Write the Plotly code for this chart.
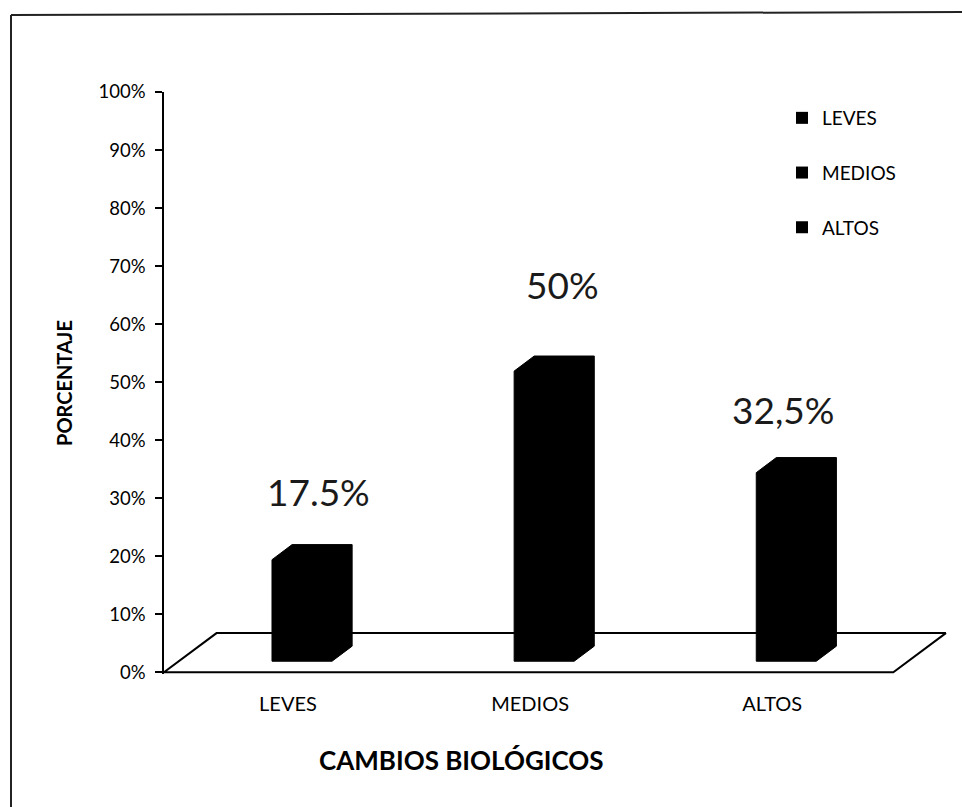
import plotly.graph_objects as go

# Chart data
categories = ["LEVES", "MEDIOS", "ALTOS"]
values = [17.5, 50, 32.5]
value_labels = ["17.5%", "50%", "32,5%"]
y_ticks = list(range(0, 101, 10))

# Layout geometry (in axis units)
FONT = "Lato"
bar_shift = 0.058      # bar front centre offset from the category tick
bar_half = 0.124       # half width of the bar front face
depth_dx = 0.083       # horizontal depth offset of the 3D faces
depth_dy = 2.6         # vertical depth offset of the 3D faces
bar_base = 1.9         # bottom of the front face, above the floor front edge
floor_left, floor_right = -0.512, 2.500
floor_dx, floor_dy = 0.217, 6.75
label_pos = [(0.128, 31.1), (1.132, 66.8), (2.045, 45.2)]

fig = go.Figure()

# Floor of the 3D chart
fig.add_trace(go.Scatter(
    x=[floor_left, floor_right, floor_right + floor_dx, floor_left + floor_dx, floor_left],
    y=[0, 0, floor_dy, floor_dy, 0],
    mode="lines", fill="toself", fillcolor="white",
    line=dict(color="black", width=2),
    hoverinfo="skip", showlegend=False,
))

# 3D bars: front face + top + side, drawn as one solid outline
for i, v in enumerate(values):
    xl = i + bar_shift - bar_half
    xr = i + bar_shift + bar_half
    y0 = bar_base
    y1 = bar_base + v
    fig.add_trace(go.Scatter(
        x=[xl, xr, xr + depth_dx, xr + depth_dx, xl + depth_dx, xl, xl],
        y=[y0, y0, y0 + depth_dy, y1 + depth_dy, y1 + depth_dy, y1, y0],
        mode="lines", fill="toself", fillcolor="black",
        line=dict(color="black", width=1),
        hoverinfo="skip", showlegend=False, name=categories[i],
    ))

# Legend entries
for i, c in enumerate(categories):
    fig.add_trace(go.Scatter(
        x=[None], y=[None], mode="markers", name=c, legendgroup=c,
        marker=dict(symbol="square", size=12, color="black"),
    ))

annotations = []
for (lx, ly), txt in zip(label_pos, value_labels):
    annotations.append(dict(
        x=lx, y=ly, xref="x", yref="y", text=txt, showarrow=False,
        font=dict(family=FONT, size=37, color="#1a1a1a"),
        xanchor="center", yanchor="middle",
    ))

W, H = 962, 807
ML, MR, MT, MB = 164, 13, 92, 133
PW, PH = W - ML - MR, H - MT - MB


def px(xp):
    return (xp - ML) / PW


def py(yp):
    return (H - MB - yp) / PH


annotations.append(dict(
    x=px(64), y=py(383), xref="paper", yref="paper", text="<b>PORCENTAJE</b>",
    textangle=-90, showarrow=False, xanchor="center", yanchor="middle",
    font=dict(family=FONT, size=20, color="black"),
))
annotations.append(dict(
    x=px(461), y=py(760), xref="paper", yref="paper", text="<b>CAMBIOS BIOLÓGICOS</b>",
    showarrow=False, xanchor="center", yanchor="middle",
    font=dict(family=FONT, size=26, color="black"),
))

# Outer frame
shapes = [
    dict(type="line", xref="paper", yref="paper", x0=px(11), y0=py(15), x1=px(962), y1=py(12),
         line=dict(color="#222", width=2)),
    dict(type="line", xref="paper", yref="paper", x0=px(11), y0=py(15), x1=px(11), y1=py(807),
         line=dict(color="#222", width=2)),
]

fig.update_layout(
    width=W, height=H,
    margin=dict(l=ML, r=MR, t=MT, b=MB),
    paper_bgcolor="white", plot_bgcolor="white",
    font=dict(family=FONT, color="black"),
    annotations=annotations, shapes=shapes,
    legend=dict(
        x=px(782), y=py(99), xref="paper", yref="paper", xanchor="left", yanchor="top",
        font=dict(family=FONT, size=19, color="black"),
        tracegroupgap=27, itemwidth=30, bgcolor="rgba(0,0,0,0)",
    ),
    showlegend=True,
)
fig.update_xaxes(
    range=[-0.512, 2.73], tickvals=[0, 1, 2], ticktext=categories,
    showline=False, showgrid=False, zeroline=False, ticks="",
    tickfont=dict(family=FONT, size=20, color="black"), ticklabelstandoff=16,
    fixedrange=True,
)
fig.update_yaxes(
    range=[-0.3, 100], tickvals=y_ticks, ticktext=[f"{t}%" for t in y_ticks],
    showline=True, linecolor="black", linewidth=1.5,
    ticks="outside", ticklen=7, tickcolor="black", tickwidth=1.5,
    showgrid=False, zeroline=False,
    tickfont=dict(family=FONT, size=18.5, color="black"), ticklabelstandoff=6,
    fixedrange=True,
)

fig.write_html("out.html")
